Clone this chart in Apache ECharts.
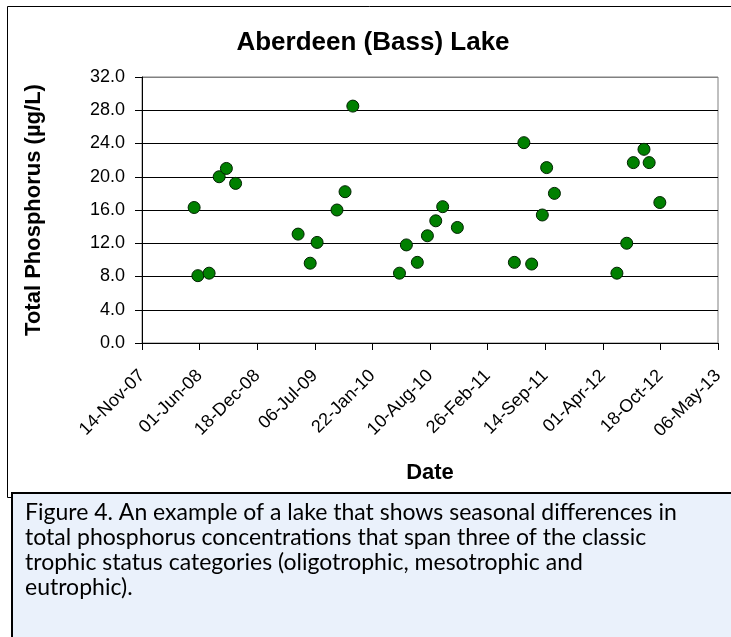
<!DOCTYPE html>
<html>
<head>
<meta charset="utf-8">
<script src="https://cdn.jsdelivr.net/npm/echarts@6/dist/echarts.min.js"></script>
<style>
  html, body { margin: 0; padding: 0; background: #fff; }
  #chart { width: 731px; height: 637px; }
</style>
</head>
<body>
<div id="chart"></div>
<script>
// sample dates and total phosphorus (ug/L)
var sampleDates = [
  '2008-05-13', '2008-05-26', '2008-07-04', '2008-08-08', '2008-09-02', '2008-10-04',
  '2009-05-09', '2009-06-20', '2009-07-14', '2009-09-21', '2009-10-19', '2009-11-15',
  '2010-04-26', '2010-05-20', '2010-06-27', '2010-08-01', '2010-08-30', '2010-09-23', '2010-11-13',
  '2011-05-30', '2011-07-02', '2011-07-29', '2011-09-04', '2011-09-19', '2011-10-16',
  '2012-05-20', '2012-06-23', '2012-07-16', '2012-08-22', '2012-09-09', '2012-10-16'
];
var phosphorus = [
  16.3, 8.1, 8.4, 20.0, 21.0, 19.2,
  13.1, 9.6, 12.1, 16.0, 18.2, 28.5,
  8.4, 11.8, 9.7, 12.9, 14.7, 16.4, 13.9,
  9.7, 24.1, 9.5, 15.4, 21.1, 18.0,
  8.4, 12.0, 21.7, 23.3, 21.7, 16.9
];
// x axis runs 14-Nov-07 .. 06-May-13 in 200 day steps (spreadsheet day numbers)
var xStart = '2007-11-14';
var xEnd = '2013-05-06';
var xStepDays = 200;
var yTicks = [0, 4, 8, 12, 16, 20, 24, 28, 32];

var captionLines = [
  'Figure 4. An example of a lake that shows seasonal differences in',
  'total phosphorus concentrations that span three of the classic',
  'trophic status categories (oligotrophic, mesotrophic and',
  'eutrophic).'
];

var months = ['Jan','Feb','Mar','Apr','May','Jun','Jul','Aug','Sep','Oct','Nov','Dec'];
var base = Date.UTC(1899, 11, 30);

function toSerial(s) {
  var p = s.split('-');
  return Math.round((Date.UTC(+p[0], +p[1] - 1, +p[2]) - base) / 86400000);
}
function fmtSerial(v) {
  var d = new Date(base + v * 86400000);
  var dd = ('0' + d.getUTCDate()).slice(-2);
  var yy = ('0' + (d.getUTCFullYear() % 100)).slice(-2);
  return dd + '-' + months[d.getUTCMonth()] + '-' + yy;
}

var points = sampleDates.map(function (s, i) { return [toSerial(s), phosphorus[i]]; });

var font = '"Liberation Sans", Arial, sans-serif';
var splitColors = yTicks.map(function (t, i) { return i === yTicks.length - 1 ? '#808080' : '#000'; });

var myChart = echarts.init(document.getElementById('chart'));
myChart.setOption({
  animation: false,
  backgroundColor: '#fff',
  title: {
    text: 'Aberdeen (Bass) Lake',
    left: 368,
    textAlign: 'center',
    top: 25,
    textStyle: { fontFamily: font, fontSize: 26, fontWeight: 'bold', color: '#000' }
  },
  grid: { left: 142, right: 13, top: 77, bottom: 294, show: true, borderColor: '#808080', borderWidth: 1 },
  xAxis: {
    type: 'value',
    min: toSerial(xStart),
    max: toSerial(xEnd),
    interval: xStepDays,
    name: 'Date',
    nameLocation: 'middle',
    nameGap: 119,
    nameTextStyle: { fontFamily: font, fontSize: 22, fontWeight: 'bold', color: '#000' },
    axisLine: { lineStyle: { color: '#000', width: 1 } },
    axisTick: { show: true, length: 7, lineStyle: { color: '#000' } },
    splitLine: { show: false },
    axisLabel: {
      rotate: 45,
      margin: 30,
      fontFamily: font,
      fontSize: 18,
      color: '#000',
      formatter: fmtSerial
    }
  },
  yAxis: {
    type: 'value',
    min: yTicks[0],
    max: yTicks[yTicks.length - 1],
    interval: 4,
    name: 'Total Phosphorus (µg/L)',
    nameLocation: 'middle',
    nameGap: 97,
    nameTextStyle: { fontFamily: font, fontSize: 22, fontWeight: 'bold', color: '#000' },
    axisLine: { show: true, lineStyle: { color: '#000', width: 1 } },
    axisTick: { show: true, length: 7, lineStyle: { color: '#000' } },
    splitLine: { show: true, lineStyle: { color: splitColors, width: 1 } },
    axisLabel: {
      margin: 17,
      fontFamily: font,
      fontSize: 18,
      color: '#000',
      formatter: function (v) { return v.toFixed(1); }
    }
  },
  series: [{
    type: 'scatter',
    data: points,
    symbol: 'circle',
    symbolSize: 12,
    itemStyle: { color: '#008000', borderColor: '#002200', borderWidth: 1, opacity: 1 }
  }],
  graphic: [
    {
      type: 'rect',
      shape: { x: 7.5, y: 6.5, width: 740, height: 491 },
      style: { fill: 'none', stroke: '#000', lineWidth: 1 },
      silent: true
    },
    {
      type: 'rect',
      shape: { x: 12, y: 493, width: 730, height: 160 },
      style: { fill: '#eaf1fb', stroke: '#000', lineWidth: 2 },
      silent: true
    },
    {
      type: 'text',
      left: 25,
      top: 500,
      style: {
        text: captionLines.join('\n'),
        fontFamily: 'Lato, "Open Sans", sans-serif',
        fontSize: 23,
        lineHeight: 25,
        fill: '#000'
      },
      silent: true
    }
  ]
});
</script>
</body>
</html>
